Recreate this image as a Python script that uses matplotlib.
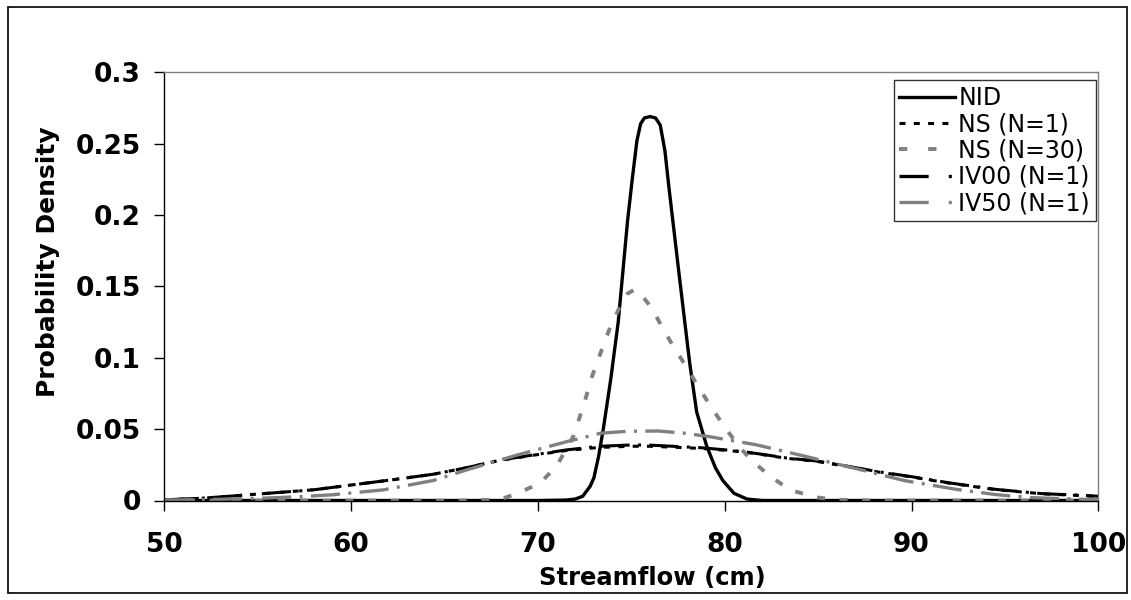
import matplotlib
matplotlib.use("Agg")
import matplotlib.pyplot as plt
from matplotlib.lines import Line2D
from matplotlib.patches import Rectangle

plt.rcParams['font.family'] = ['DejaVu Sans']
plt.rcParams['lines.scale_dashes'] = False

# ---------------- data ----------------
nid_x = [50, 70, 71.5, 72.0, 72.4, 72.8, 73.0, 73.25, 73.5, 73.9, 74.3, 74.8, 75.05,
         75.3, 75.5, 75.7, 76.0, 76.3, 76.55, 76.8, 77.0, 77.5, 78.0, 78.14, 78.5,
         79.04, 79.5, 79.9, 80.5, 81.2, 82, 100]
nid_y = [0, 0, 0.0003, 0.001, 0.003, 0.010, 0.016, 0.031, 0.050, 0.085, 0.125, 0.196, 0.225,
         0.252, 0.264, 0.268, 0.269, 0.268, 0.263, 0.245, 0.221, 0.165, 0.110, 0.095, 0.062,
         0.038, 0.023, 0.014, 0.005, 0.001, 0, 0]

ns30_x = [50, 66, 67.5, 68.15, 68.9, 70.1, 71.0, 71.9, 72.43, 72.9, 73.4, 73.86, 74.36,
          74.8, 75.2, 75.6, 76.09, 76.71, 77.25, 77.93, 78.57, 79.3, 80.02, 80.82, 81.45,
          82.43, 83.5, 84.9, 86, 88, 100]
ns30_y = [0, 0, 0.0005, 0.0015, 0.005, 0.012, 0.024, 0.045, 0.066, 0.087, 0.105, 0.121, 0.135,
          0.145, 0.148, 0.143, 0.135, 0.120, 0.108, 0.094, 0.080, 0.065, 0.051, 0.037, 0.028,
          0.017, 0.0074, 0.0022, 0.0005, 0, 0]

broad_x = [50, 51.9, 53.5, 55.5, 58, 60.1, 62.2, 64.4, 66.2, 68.0, 69.8, 71.5, 73.3, 75.0,
           76.0, 77.5, 78.7, 80, 81.0, 82.2, 83.3, 84.9, 86.5, 88.2, 89.9, 92, 94.5, 97,
           99.0, 100]
ns1_y = [0.0005, 0.0015, 0.003, 0.005, 0.0075, 0.011, 0.0145, 0.0184, 0.023, 0.0282, 0.0318,
         0.0350, 0.0372, 0.0380, 0.0380, 0.0372, 0.0365, 0.0352, 0.0340, 0.0318, 0.0296,
         0.0275, 0.0240, 0.0200, 0.0167, 0.0122, 0.0076, 0.0047, 0.0035, 0.0028]
iv00_y = [0.0005, 0.0015, 0.003, 0.005, 0.0075, 0.011, 0.0145, 0.0184, 0.023, 0.0284, 0.0320,
          0.0354, 0.0380, 0.0389, 0.0388, 0.0378, 0.0370, 0.0355, 0.0342, 0.0320, 0.0298,
          0.0277, 0.0242, 0.0202, 0.0169, 0.0124, 0.0078, 0.0048, 0.0037, 0.0030]

iv50_x = [50, 52, 55, 57.3, 59.0, 61.7, 64.4, 66.2, 68.9, 71.54, 73.34, 74.8, 76.45, 77.8,
          79.2, 81.7, 84.3, 86.95, 89.6, 92.4, 94.6, 96.4, 100]
iv50_y = [0.0003, 0.0005, 0.0015, 0.0027, 0.004, 0.0074, 0.0140, 0.0215, 0.0319, 0.0412,
          0.0471, 0.0485, 0.0487, 0.0472, 0.0447, 0.0390, 0.0310, 0.0226, 0.0140, 0.0078,
          0.0040, 0.0020, 0.0005]

labels = ['NID', 'NS (N=1)', 'NS (N=30)', 'IV00 (N=1)', 'IV50 (N=1)']
x_ticks = [50, 60, 70, 80, 90, 100]
y_ticks = [0, 0.05, 0.1, 0.15, 0.2, 0.25, 0.3]
y_ticklabels = ['0', '0.05', '0.1', '0.15', '0.2', '0.25', '0.3']

# ---------------- styling ----------------
GRAY = '#808080'
fig = plt.figure(figsize=(11.31, 6.0), dpi=100)
ax = fig.add_axes([164.3 / 1131, 1 - 500.5 / 600, (1098.3 - 164.3) / 1131, (500.5 - 72.3) / 600])

dash_ld = (0, (21, 6, 2.2, 6))       # long dash dot
dash_short = (0, (4.3, 6.0))
dash_dot_gray = (0, (5.8, 10.5))

l_nid, = ax.plot(nid_x, nid_y, color='black', lw=2.4, solid_joinstyle='round')
l_iv00, = ax.plot(broad_x, iv00_y, color='black', lw=2.2, linestyle=dash_ld)
l_ns1, = ax.plot(broad_x, ns1_y, color='black', lw=2.2, linestyle=dash_short)
l_iv50, = ax.plot(iv50_x, iv50_y, color=GRAY, lw=2.4, linestyle=dash_ld)
l_ns30, = ax.plot(ns30_x, ns30_y, color=GRAY, lw=2.8, linestyle=dash_dot_gray)

ax.set_xlim(50, 100)
ax.set_ylim(0, 0.3)
ax.set_xticks(x_ticks)
ax.set_xticklabels([str(v) for v in x_ticks])
ax.set_yticks(y_ticks)
ax.set_yticklabels(y_ticklabels)
ax.tick_params(axis='both', direction='out', length=7, width=1, labelsize=19)
ax.tick_params(axis='y', pad=10)
ax.tick_params(axis='x', pad=16)
for lab in ax.get_xticklabels() + ax.get_yticklabels():
    lab.set_fontweight('bold')

ax.spines['left'].set_color('black')
ax.spines['bottom'].set_color('black')
ax.spines['top'].set_color(GRAY)
ax.spines['right'].set_color(GRAY)
for s in ax.spines.values():
    s.set_linewidth(1.0)

ax.set_xlabel('Streamflow (cm)', fontsize=17.5, fontweight='bold')
ax.set_ylabel('Probability Density', fontsize=18, fontweight='bold')
ax.xaxis.set_label_coords((652 - 164.3) / 934, -(578 - 500.5) / 428.2)
ax.xaxis.label.set_va('center')
ax.yaxis.set_label_coords(-(164.3 - 48) / 934, (500.5 - 262) / 428.2)
ax.yaxis.label.set_va('center')

# legend with proxies matching the reference legend symbols
handles = [
    Line2D([], [], color='black', lw=2.4),
    Line2D([], [], color='black', lw=2.2, linestyle=dash_short),
    Line2D([], [], color=GRAY, lw=2.8, linestyle=(0, (6, 15))),
    Line2D([], [], color='black', lw=2.4, linestyle=(0, (21, 14.5, 2.2, 14))),
    Line2D([], [], color=GRAY, lw=2.4, linestyle=(0, (21, 14.5, 2.2, 14))),
]
leg = fig.legend(handles, labels, loc='upper right', bbox_to_anchor=(1096 / 1131, 1 - 80 / 600),
                 fontsize=17, frameon=True, fancybox=False, shadow=False,
                 handlelength=2.35, handletextpad=0.15, labelspacing=0.1,
                 borderpad=0.25, borderaxespad=0)
leg.get_frame().set_edgecolor('black')
leg.get_frame().set_linewidth(1.0)

fig.patches.append(Rectangle((8 / 1131, 7 / 600), (1127 - 8) / 1131, (593 - 7) / 600,
                             transform=fig.transFigure, fill=False, edgecolor='black', lw=1.2))

fig.savefig('out.png', dpi=100)
